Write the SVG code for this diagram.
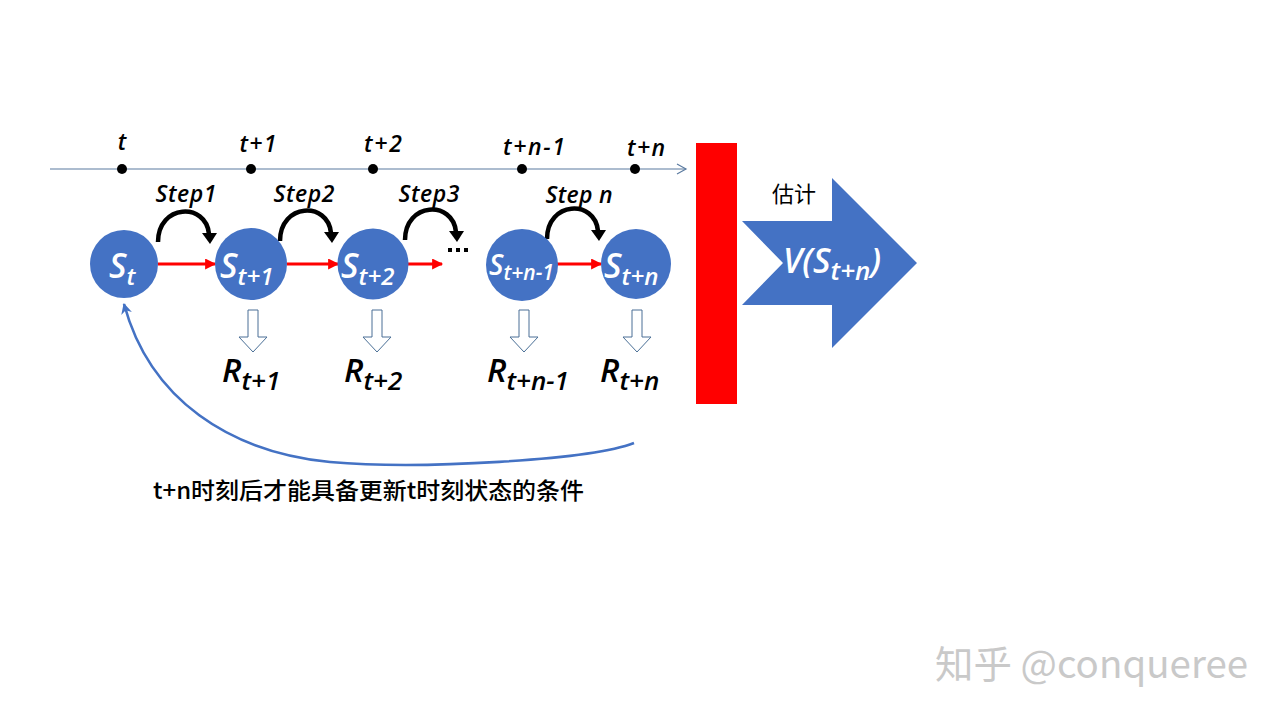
<svg xmlns="http://www.w3.org/2000/svg" width="1280" height="720" viewBox="0 0 1280 720">
<defs>
<style>
.lat{font-family:"Open Sans","Liberation Sans",Arial,sans-serif;font-style:italic;font-weight:600}
.tl{font-size:23px;fill:#000}
.st{font-size:23px;fill:#000}
.node{fill:#4472c4}
.nt{fill:#fff}
.red{stroke:#ff0000;stroke-width:3;fill:none}
.hol{fill:#fff;stroke:#4a6f96;stroke-width:1}
.cjk{font-family:"Noto Sans CJK SC","Noto Sans",sans-serif}
</style>
<marker id="rh" viewBox="0 0 10 10" refX="9" refY="5" markerWidth="13" markerHeight="11" markerUnits="userSpaceOnUse" orient="auto">
<path d="M0,0 L10,5 L0,10 z" fill="#ff0000"/>
</marker>
<marker id="bh" viewBox="0 0 10 10" refX="9" refY="5" markerWidth="11" markerHeight="11" markerUnits="userSpaceOnUse" orient="auto">
<path d="M0,0 L10,5 L0,10 L3,5 z" fill="#4472c4"/>
</marker>
<g id="steparc">
<path d="M0,0 C0,-38 48,-40 51,-8" fill="none" stroke="#000" stroke-width="4.5"/>
<path d="M44,-9 L59,-9 L52,2 z" fill="#000"/>
</g>
<path id="hollow" d="M-5,0 L5,0 L5,27 L14,27 L0,42 L-14,27 L-5,27 z"/>
</defs>

<g id="timeline">
<line x1="50" y1="169" x2="686" y2="169" stroke="#5b7ba0" stroke-width="1.2"/>
<polyline points="677,164 686,169 677,174" fill="none" stroke="#5b7ba0" stroke-width="1.2"/>
<circle cx="122" cy="169" r="5" fill="#000"/>
<circle cx="251" cy="169" r="5" fill="#000"/>
<circle cx="373" cy="169" r="5" fill="#000"/>
<circle cx="522" cy="169" r="5" fill="#000"/>
<circle cx="635" cy="169" r="5" fill="#000"/>
<text class="lat tl" x="122" y="150" text-anchor="middle">t</text>
<text class="lat tl" x="258" y="152" text-anchor="middle" textLength="37">t+1</text>
<text class="lat tl" x="383" y="152" text-anchor="middle" textLength="38">t+2</text>
<text class="lat tl" x="534" y="155" text-anchor="middle" textLength="62">t+n-1</text>
<text class="lat tl" x="646" y="156" text-anchor="middle" textLength="38">t+n</text>
</g>

<g id="steps">
<use href="#steparc" transform="translate(158,242)"/>
<use href="#steparc" transform="translate(280,241)"/>
<use href="#steparc" transform="translate(405,240)"/>
<use href="#steparc" transform="translate(547,239)"/>
<text class="lat st" x="186" y="202" text-anchor="middle" textLength="61">Step1</text>
<text class="lat st" x="304" y="202" text-anchor="middle" textLength="61">Step2</text>
<text class="lat st" x="429" y="202" text-anchor="middle" textLength="61">Step3</text>
<text class="lat st" x="579" y="203" text-anchor="middle" textLength="67">Step n</text>
</g>

<g id="connectors">
<line class="red" x1="158" y1="264" x2="215" y2="264" marker-end="url(#rh)"/>
<line class="red" x1="287" y1="264" x2="338" y2="264" marker-end="url(#rh)"/>
<line class="red" x1="408" y1="264" x2="442" y2="264" marker-end="url(#rh)"/>
<line class="red" x1="557" y1="264" x2="601" y2="264" marker-end="url(#rh)"/>
<path d="M634,443 C590,460 420,470 330,462 C230,452 150,400 124,304" fill="none" stroke="#4472c4" stroke-width="2.6" marker-end="url(#bh)"/>
</g>

<g id="dots" fill="#000">
<rect x="448" y="248" width="4" height="4"/>
<rect x="456" y="248" width="4" height="4"/>
<rect x="464" y="248" width="4" height="4"/>
</g>

<g id="node-st">
<circle class="node" cx="124" cy="264" r="34"/>
<text class="lat nt" x="109" y="278" font-size="34">S<tspan font-size="24" dy="7">t</tspan></text>
</g>
<g id="node-st1">
<circle class="node" cx="251" cy="264" r="36"/>
<text class="lat nt" x="220" y="278" font-size="34">S<tspan font-size="24" dy="7">t+1</tspan></text>
</g>
<g id="node-st2">
<circle class="node" cx="373" cy="264" r="35.5"/>
<text class="lat nt" x="341" y="278" font-size="34">S<tspan font-size="24" dy="7">t+2</tspan></text>
</g>
<g id="node-stn1">
<circle class="node" cx="522" cy="265" r="36"/>
<text class="lat nt" x="489" y="275" font-size="28">S<tspan font-size="21" dy="5">t+n-1</tspan></text>
</g>
<g id="node-stn">
<circle class="node" cx="636" cy="264" r="35"/>
<text class="lat nt" x="604" y="278" font-size="34">S<tspan font-size="24" dy="7">t+n</tspan></text>
</g>

<g id="rewards">
<use href="#hollow" class="hol" transform="translate(253,310)"/>
<use href="#hollow" class="hol" transform="translate(377,310)"/>
<use href="#hollow" class="hol" transform="translate(524,310)"/>
<use href="#hollow" class="hol" transform="translate(637,310)"/>
<text class="lat" x="222" y="382" font-size="33" fill="#000">R<tspan font-size="26" dy="8">t+1</tspan></text>
<text class="lat" x="344" y="382" font-size="33" fill="#000">R<tspan font-size="26" dy="8">t+2</tspan></text>
<text class="lat" x="487" y="382" font-size="33" fill="#000">R<tspan font-size="26" dy="8">t+n-1</tspan></text>
<text class="lat" x="600" y="382" font-size="33" fill="#000">R<tspan font-size="26" dy="8">t+n</tspan></text>
</g>

<g id="barrier">
<rect x="696" y="143" width="41" height="261" fill="#ff0000"/>
</g>

<g id="estimate">
<polygon points="742,221 832,221 832,178 917,263 832,348 832,305 742,305 783,263" fill="#4472c4"/>
<text class="cjk" x="772" y="202" font-size="22" fill="#000">估计</text>
<text class="lat nt" x="783" y="273" font-size="34">V(S<tspan font-size="26" dy="7">t+n</tspan><tspan font-size="34" dy="-7">)</tspan></text>
</g>

<g id="note">
<text class="cjk" x="153" y="499" font-size="23" font-weight="500" fill="#000" textLength="431" lengthAdjust="spacingAndGlyphs">t+n时刻后才能具备更新t时刻状态的条件</text>
</g>

<g id="watermark">
<text class="cjk" x="935" y="678" font-size="38" fill="#c9c9c9" textLength="313" lengthAdjust="spacingAndGlyphs">知乎 @conqueree</text>
</g>
</svg>
